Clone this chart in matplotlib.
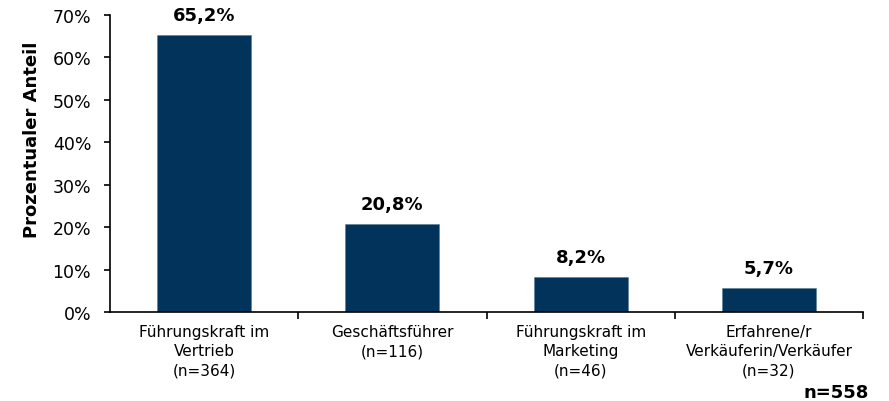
import matplotlib
matplotlib.use("Agg")
import matplotlib.pyplot as plt
import numpy as np

categories = ["Führungskraft im\nVertrieb\n(n=364)", "Geschäftsführer\n(n=116)",
              "Führungskraft im\nMarketing\n(n=46)", "Erfahrene/r\nVerkäuferin/Verkäufer\n(n=32)"]
values = [65.2, 20.8, 8.2, 5.7]
value_labels = ["65,2%", "20,8%", "8,2%", "5,7%"]
yticks = [0, 10, 20, 30, 40, 50, 60, 70]
ytick_labels = ["0%", "10%", "20%", "30%", "40%", "50%", "60%", "70%"]

plt.rcParams['font.family'] = ['DejaVu Sans']
fig = plt.figure(figsize=(8.89, 4.02), dpi=100)
ax = fig.add_axes([110/889, 1-313/402, (863-110)/889, (313-16)/402])

x = np.arange(len(values))
ax.bar(x, values, width=0.5, color='#02335B', edgecolor='#5A7A98', linewidth=0.4)
for xi, v, lab in zip(x, values, value_labels):
    ax.text(xi, v + 2.6, lab, ha='center', va='bottom', fontsize=13, fontweight='bold')

ax.set_xlim(-0.5, len(values) - 0.5)
ax.set_ylim(0, 70)
ax.set_yticks(yticks)
ax.set_yticklabels(ytick_labels, fontsize=12.5)
ax.set_xticks(x)
ax.set_xticklabels(categories, fontsize=11, linespacing=1.32)
ax.tick_params(axis='x', length=0, pad=9)
ax.set_xticks(np.arange(len(values)) + 0.5, minor=True)
ax.tick_params(axis='x', which='minor', length=5, width=1.2, direction='out')
ax.tick_params(axis='y', length=4.5, width=1.2, direction='out', pad=9)
for s in ['top', 'right']:
    ax.spines[s].set_visible(False)
for s in ['left', 'bottom']:
    ax.spines[s].set_linewidth(1.2)
ax.set_ylabel("Prozentualer Anteil", fontsize=13, fontweight='bold')
ax.yaxis.set_label_coords((41-110)/753, (313-140)/297)

fig.text(869/889, 1-393/402, "n=558", ha='right', va='center', fontsize=13, fontweight='bold')

fig.savefig("out.png", dpi=100)
